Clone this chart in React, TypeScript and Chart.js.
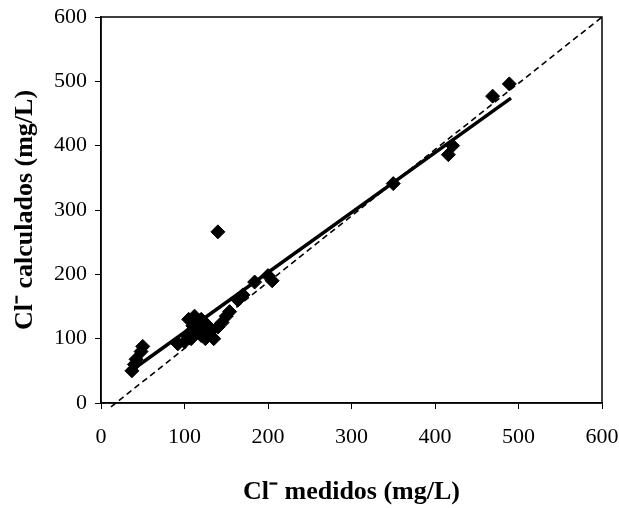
import React, { useEffect, useRef } from "react";
import { Chart, registerables } from "chart.js";

Chart.register(...registerables);

const measured = [37, 40, 42, 48, 50, 92, 100, 103, 105, 108, 110, 112, 115, 118, 120, 120, 123, 125, 128, 130, 135, 140, 145, 150, 140, 154, 164, 170, 184, 200, 205, 350, 416, 421, 469, 489];
const calculated = [50, 60, 68, 80, 88, 92, 95, 105, 130, 100, 120, 135, 110, 125, 105, 130, 115, 100, 120, 110, 100, 118, 125, 135, 266, 142, 160, 168, 188, 198, 190, 341, 386, 400, 477, 496];
const fitX = [38, 491];
const fitY = [52, 474];
const oneToOneX = [12, 600];
const oneToOneY = [-6, 600];
const tickValues = [0, 100, 200, 300, 400, 500, 600];

const frame = {
  id: "frame",
  afterDraw(chart: any) {
    const { ctx, chartArea: a } = chart;
    ctx.save();
    ctx.strokeStyle = "#000";
    ctx.lineWidth = 1.5;
    ctx.strokeRect(a.left, a.top, a.right - a.left, a.bottom - a.top);
    ctx.restore();
  },
};

export default function App() {
  const ref = useRef<HTMLCanvasElement>(null);
  useEffect(() => {
    const points = measured.map((x, i) => ({ x, y: calculated[i] }));
    const chart = new Chart(ref.current!, {
      type: "scatter",
      data: {
        datasets: [
          {
            data: oneToOneX.map((x, i) => ({ x, y: oneToOneY[i] })),
            showLine: true,
            borderColor: "#000",
            borderWidth: 1.6,
            borderDash: [6, 4],
            pointRadius: 0,
            clip: false as any,
          },
          {
            data: points,
            pointStyle: "rectRot",
            pointRadius: 7,
            backgroundColor: "#000",
            borderColor: "#000",
            showLine: false,
          },
          {
            data: fitX.map((x, i) => ({ x, y: fitY[i] })),
            showLine: true,
            borderColor: "#000",
            borderWidth: 3.5,
            pointRadius: 0,
          },
        ],
      },
      options: {
        animation: false,
        responsive: false,
        devicePixelRatio: 1,
        layout: { padding: { left: 0, top: 17, right: 17, bottom: 0 } },
        plugins: { legend: { display: false }, tooltip: { enabled: false } },
        scales: {
          x: {
            type: "linear",
            min: 0,
            max: 600,
            afterBuildTicks: (s: any) => { s.ticks = tickValues.map((v) => ({ value: v })); },
            afterFit: (s: any) => { s.height = 105; s.paddingLeft = 0; s.paddingRight = 0; },
            grid: { drawOnChartArea: false, drawTicks: true, tickLength: 6, color: "#000" },
            border: { display: true, color: "#000", width: 1.5 },
            ticks: { color: "#000", font: { family: "Liberation Serif", size: 22 }, padding: 15, maxRotation: 0 },
            title: {
              display: true,
              text: "Cl⁻ medidos (mg/L)",
              color: "#000",
              font: { family: "Liberation Serif", size: 26, weight: "bold" },
              padding: { top: 10, bottom: 0 },
            },
          },
          y: {
            type: "linear",
            min: 0,
            max: 600,
            afterBuildTicks: (s: any) => { s.ticks = tickValues.map((v) => ({ value: v })); },
            afterFit: (s: any) => { s.width = 101; s.paddingTop = 0; s.paddingBottom = 0; },
            grid: { drawOnChartArea: false, drawTicks: true, tickLength: 6, color: "#000" },
            border: { display: true, color: "#000", width: 1.5 },
            ticks: { color: "#000", font: { family: "Liberation Serif", size: 22 }, padding: 8 },
            title: {
              display: true,
              text: "Cl⁻ calculados (mg/L)",
              color: "#000",
              font: { family: "Liberation Serif", size: 26, weight: "bold" },
              padding: { top: 10, bottom: 4 },
            },
          },
        },
      },
      plugins: [frame],
    });
    return () => chart.destroy();
  }, []);
  return (
    <div style={{ position: "absolute", left: 0, top: 0, width: 619, height: 508, background: "#fff" }}>
      <canvas ref={ref} width={619} height={508} style={{ display: "block" }} />
    </div>
  );
}
